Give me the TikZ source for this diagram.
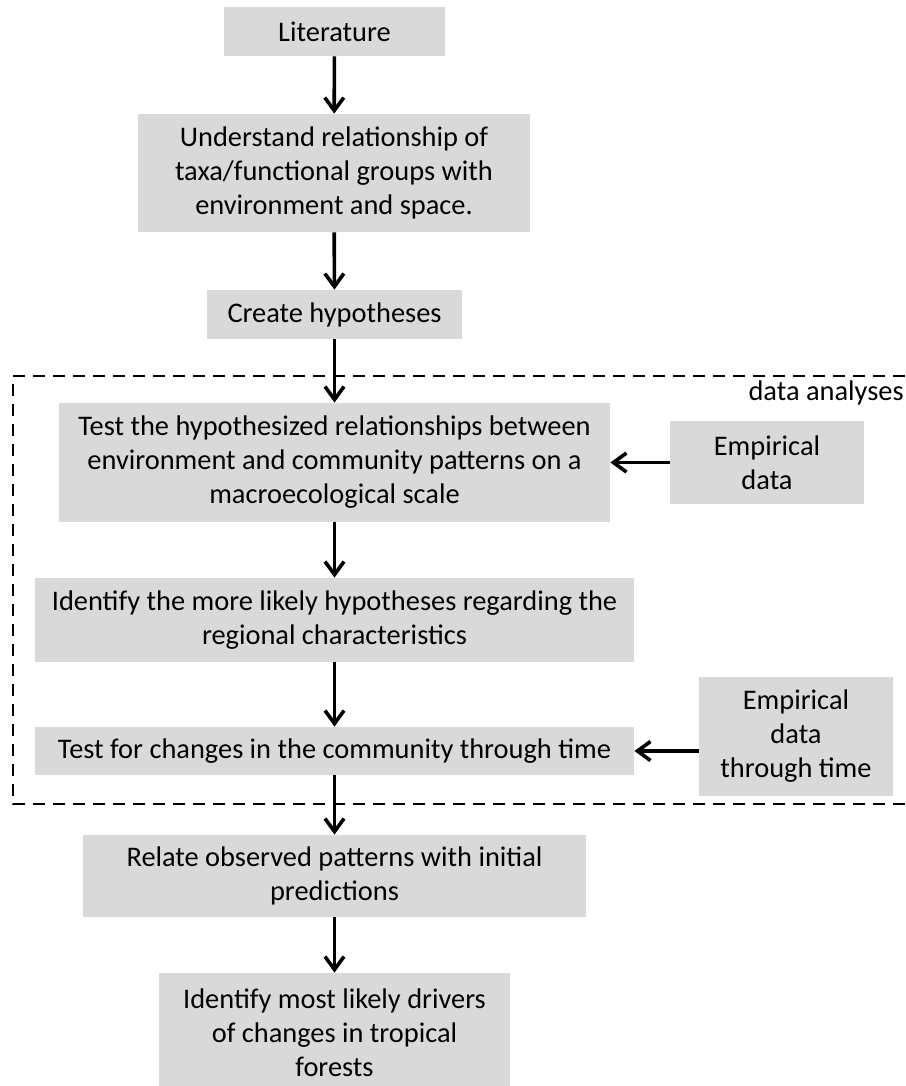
\documentclass[tikz,border=0pt]{standalone}
\usepackage{fontspec}
\setmainfont{Carlito}
\usetikzlibrary{arrows.meta}
\definecolor{boxgray}{RGB}{217,217,217}
\tikzset{
  stepbox/.style={fill=boxgray, align=center, inner sep=0pt, font=\fontsize{14.2}{17}\selectfont},
  arrowline/.style={-{Straight Barb[length=6.5pt,width=9.5pt]}, line width=1.8pt},
}
\begin{document}
\begin{tikzpicture}[x=0.5pt,y=-0.5pt]
                \useasboundingbox (0,0) rectangle (905,1086);

                % Cajas
                \node[stepbox, minimum width=110.5pt, minimum height=24.5pt] (lit) at (334.5,31.5) {Literature};
                \node[stepbox, minimum width=196pt, minimum height=59pt] (underst) at (334,173) {Understand relationship of\\taxa/functional groups with\\environment and space.};
                \node[stepbox, minimum width=127.5pt, minimum height=24.5pt] (hyp) at (334.5,314.5) {Create hypotheses};
                \node[stepbox, minimum width=275.5pt, minimum height=59.5pt] (test) at (334.5,462.5) {Test the hypothesized relationships between\\environment and community patterns on a\\macroecological scale};
                \node[stepbox, minimum width=97pt, minimum height=41.5pt] (emp) at (767,462.5) {Empirical\\data};
                \node[stepbox, minimum width=299.5pt, minimum height=42pt] (ident) at (334.5,620) {Identify the more likely hypotheses regarding the\\regional characteristics};
                \node[stepbox, minimum width=299.5pt, minimum height=24pt] (testtime) at (334.5,751) {Test for changes in the community through time};
                \node[stepbox, minimum width=97pt, minimum height=59.5pt] (emptime) at (796,736.5) {Empirical\\data\\through time};
                \node[stepbox, minimum width=251.5pt, minimum height=41pt] (relate) at (334.5,876) {Relate observed patterns with initial\\predictions};
                \node[stepbox, minimum width=175.5pt, minimum height=60pt] (drivers) at (334.5,1033) {Identify most likely drivers\\of changes in tropical\\forests};

                % Marco de analisis
                \draw[line width=1pt, dash pattern=on 6pt off 4pt] (905,376) -- (13,376) -- (13,804) -- (905,804);
                \node[anchor=east, inner sep=0pt, font=\fontsize{14.2}{17}\selectfont] (frame) at (904,393) {data analyses};

                % Flechas
                \draw[arrowline] (lit) -- (underst);
                \draw[arrowline] (underst) -- (hyp);
                \draw[arrowline] (hyp) -- (test);
                \draw[arrowline] (test) -- (ident);
                \draw[arrowline] (ident) -- (testtime);
                \draw[arrowline] (testtime) -- (relate);
                \draw[arrowline] (relate) -- (drivers);
                \draw[arrowline] (emp) -- (test);
                \draw[arrowline] (emptime.west |- testtime.east) -- (testtime.east);
            \end{tikzpicture}
\end{document}
